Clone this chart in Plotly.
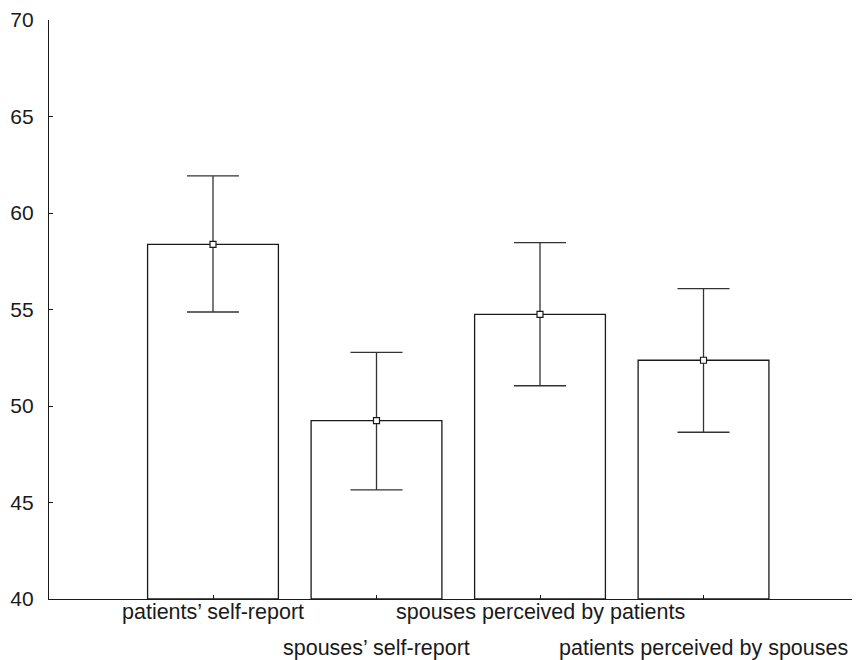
import plotly.graph_objects as go

categories = ["patients’ self-report", "spouses’ self-report",
              "spouses perceived by patients", "patients perceived by spouses"]
means = [58.37, 49.24, 54.75, 52.37]
upper = [61.92, 52.78, 58.46, 56.08]
lower = [54.87, 45.65, 51.05, 48.64]
y_ticks = [40, 45, 50, 55, 60, 65, 70]

xpos = list(range(len(categories)))
err_plus = [u - m for u, m in zip(upper, means)]
err_minus = [m - l for m, l in zip(means, lower)]

FONT = "Liberation Sans, Arial, sans-serif"
LINE = "#1a1a1a"
TXT = "#1a1a1a"

fig = go.Figure()
fig.add_trace(go.Bar(
    x=xpos, y=[m - 40 for m in means], base=40, width=0.8,
    marker=dict(color="white", line=dict(color=LINE, width=1.3)),
    showlegend=False, hoverinfo="skip"))
fig.add_trace(go.Scatter(
    x=xpos, y=means, mode="markers",
    marker=dict(symbol="square", size=6, color="white", line=dict(color=LINE, width=1.2)),
    error_y=dict(type="data", symmetric=False, array=err_plus, arrayminus=err_minus,
                 color="#333333", thickness=1.3, width=26),
    showlegend=False))

for i, c in enumerate(categories):
    fig.add_annotation(x=i, y=0, xref="x", yref="paper", text=c, showarrow=False,
                       xanchor="center", yanchor="middle",
                       yshift=-13 if i % 2 == 0 else -49,
                       font=dict(family=FONT, size=21.5, color=TXT))

fig.update_layout(
    width=860, height=652, plot_bgcolor="white", paper_bgcolor="white",
    margin=dict(l=41, r=0, t=12, b=61),
    font=dict(family=FONT, size=21, color=TXT),
    xaxis=dict(range=[-1.003, 4.006], showgrid=False, zeroline=False,
               showline=True, linecolor=LINE, linewidth=1.3,
               tickvals=xpos, ticktext=["", "", "", ""], ticks="inside",
               ticklen=4, tickcolor=LINE, tickwidth=1),
    yaxis=dict(range=[40, 70], showgrid=False, zeroline=False,
               showline=True, linecolor=LINE, linewidth=1.3,
               tickvals=y_ticks, ticks="inside", ticklen=4,
               tickcolor=LINE, tickwidth=1.3, ticklabelstandoff=10,
               tickfont=dict(family=FONT, size=21, color=TXT)),
)
fig.write_html("out.html", post_script="document.body.style.overflow='hidden';")
